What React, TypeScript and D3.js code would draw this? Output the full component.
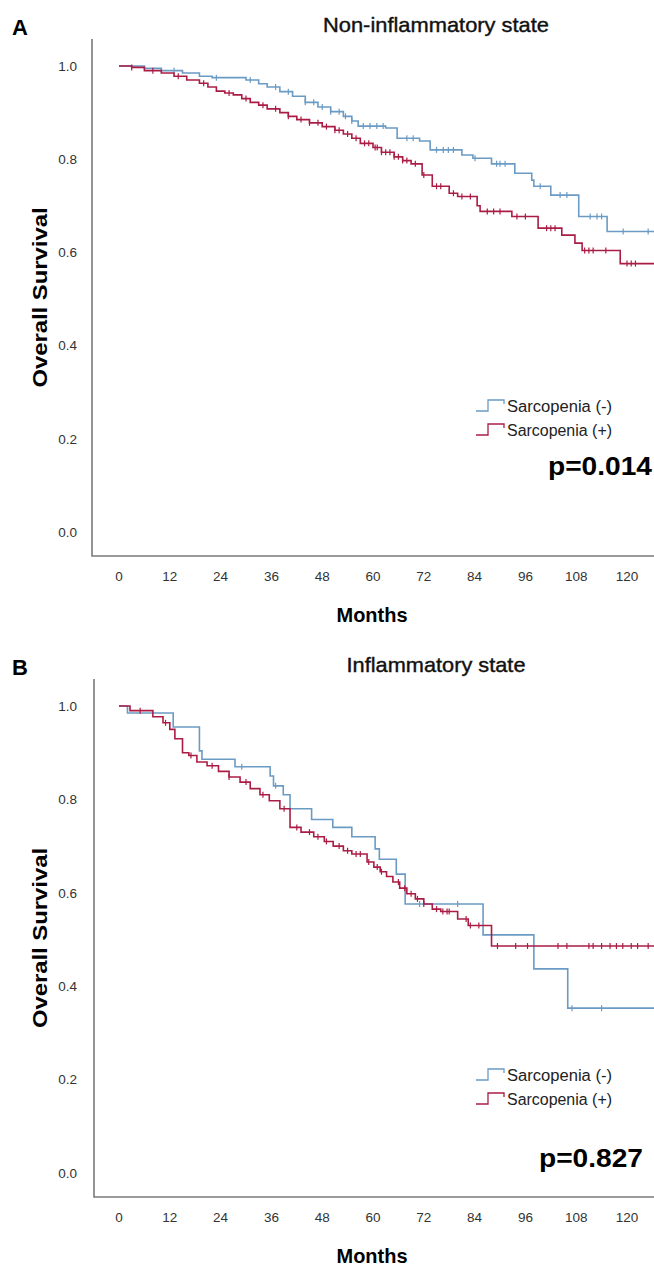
import React, { useEffect, useRef } from "react";
import * as d3 from "d3";

// months / survival ticks
const monthTicks = [0, 12, 24, 36, 48, 60, 72, 84, 96, 108, 120];
const survTicks = [0, 0.2, 0.4, 0.6, 0.8, 1.0];
const groups = ["Sarcopenia (-)", "Sarcopenia (+)"];

// Panel A: non-inflammatory state, [month, survival] after each event
const nonInflamNeg = [
  [0, 1.0], [6, 0.995], [10, 0.99], [15, 0.985], [19, 0.978], [22, 0.975], [30, 0.97], [33, 0.962],
  [35, 0.955], [38, 0.945], [41, 0.935], [44, 0.922], [47, 0.912], [50, 0.902], [53, 0.892], [55, 0.882],
  [56.5, 0.871], [63, 0.867], [65.7, 0.845], [71, 0.839], [73.5, 0.82], [81, 0.809], [83.6, 0.802],
  [88, 0.79], [93.5, 0.77], [97.5, 0.755], [98, 0.742], [102, 0.723], [108.6, 0.677], [115.3, 0.645],
];
const nonInflamPos = [
  [0, 1.0], [3, 0.997], [6, 0.99], [10, 0.985], [13, 0.978], [16, 0.97], [19, 0.963], [21, 0.955],
  [23, 0.946], [25, 0.942], [27, 0.938], [29, 0.93], [31, 0.922], [33, 0.916], [35, 0.908], [38, 0.9],
  [40, 0.892], [42, 0.885], [45, 0.878], [48, 0.87], [51, 0.862], [53, 0.854], [55, 0.845], [57, 0.834],
  [60, 0.825], [62, 0.815], [65, 0.805], [67, 0.797], [69, 0.79], [71.6, 0.766], [74, 0.742], [78, 0.727],
  [80, 0.72], [84.6, 0.7], [85.3, 0.688], [92.8, 0.677], [99, 0.652], [104.6, 0.637], [107.7, 0.62],
  [109.4, 0.604], [118.4, 0.576],
];
const nonInflamNegCensor = [13, 23, 31, 37, 40, 44, 46, 48, 50, 52, 53.5, 55, 57.7, 59.3, 60.9, 62.4, 68, 69.5,
  75, 76.6, 77.8, 79, 84.1, 89.2, 90, 91.2, 99.5, 104.2, 105.8, 111.3, 112.9, 114, 119.1, 125];
const nonInflamPosCensor = [3, 8, 14, 20, 26, 30, 34, 37, 40, 43, 45, 47, 49, 51, 52, 54, 56, 58, 59, 60.5, 61,
  62, 63, 64, 65, 66, 67, 68, 70, 72, 75, 76, 79, 81, 83, 87, 88.5, 90, 94, 96, 101, 102, 103, 110, 111, 112,
  115, 120, 121, 122];

// Panel B: inflammatory state
const inflamNeg = [
  [0, 1.0], [2, 0.985], [12.8, 0.955], [19, 0.904], [19.6, 0.886], [27.4, 0.87], [35.7, 0.85], [36.5, 0.829],
  [38.8, 0.81], [40.4, 0.78], [45.5, 0.757], [50.5, 0.74], [55, 0.72], [60.5, 0.694], [61.5, 0.672],
  [65.5, 0.64], [67.6, 0.576], [86, 0.51], [98, 0.437], [106, 0.353],
];
const inflamPos = [
  [0, 1.0], [2.6, 0.99], [8, 0.977], [10.4, 0.964], [12, 0.95], [13.2, 0.93], [15, 0.9], [16.5, 0.894],
  [18.4, 0.88], [20.8, 0.872], [23.5, 0.86], [26, 0.848], [28.6, 0.837], [31, 0.823], [33.3, 0.81],
  [35.5, 0.797], [38, 0.78], [40.4, 0.74], [43, 0.73], [46, 0.72], [48.5, 0.71], [50.6, 0.7], [53, 0.69],
  [55, 0.683], [58.6, 0.666], [60.2, 0.655], [61.7, 0.645], [63.2, 0.635], [64.7, 0.623], [66.3, 0.61],
  [68, 0.598], [70, 0.587], [72, 0.576], [74, 0.565], [76, 0.56], [80, 0.544], [82.5, 0.53], [88, 0.486],
];
const inflamNegCensor = [29, 37, 71, 80, 107, 114];
const inflamPosCensor = [5, 11, 17, 22, 26, 30, 34, 39, 42, 45, 47, 49, 52, 54, 56, 57, 59, 61, 62, 66, 67.5,
  69, 70.5, 72, 75, 76.5, 77.5, 78, 82, 83, 85, 89.4, 93.7, 96.5, 103.7, 105.8, 111, 112, 114, 116, 117.5, 119,
  121, 122.5, 125];

const BLUE = "#6b9bc4";
const RED = "#ab1c45";
const FONT = "'Liberation Sans', Arial, sans-serif";

const panels = [
  {
    letter: "A", title: "Non-inflammatory state", titleLen: 226, p: "p=0.014",
    top: 39, bottom: 556, y0: 532, y1: 66, axisX: 92,
    neg: nonInflamNeg, pos: nonInflamPos, negC: nonInflamNegCensor, posC: nonInflamPosCensor,
    legY: 406, legX: 506, pY: 466, pX: 652,
  },
  {
    letter: "B", title: "Inflammatory state", titleLen: 179, p: "p=0.827",
    top: 679, bottom: 1197, y0: 1173, y1: 706, axisX: 94,
    neg: inflamNeg, pos: inflamPos, negC: inflamNegCensor, posC: inflamPosCensor,
    legY: 1075, legX: 506, pY: 1158, pX: 643,
  },
];

function App() {
  const ref = useRef(null);

  useEffect(() => {
    const svg = d3.select(ref.current);
    svg.selectAll("*").remove();
    const x = d3.scaleLinear().domain([0, 120]).range([119, 627]);
    const xEnd = 127;

    panels.forEach((cfg) => {
      const y = d3.scaleLinear().domain([0, 1]).range([cfg.y0, cfg.y1]);
      const g = svg.append("g");

      // letter + title
      g.append("text").attr("x", 12).attr("y", cfg.top - 12).attr("dy", "0.35em")
        .attr("font-size", 22).attr("font-weight", "bold").attr("font-family", FONT).text(cfg.letter);
      g.append("text").attr("x", 436).attr("y", cfg.top - 14).attr("dy", "0.35em")
        .attr("text-anchor", "middle").attr("font-size", 21).attr("font-family", FONT)
        .attr("fill", "#111").attr("stroke", "#111").attr("stroke-width", 0.4)
        .attr("textLength", cfg.titleLen).attr("lengthAdjust", "spacingAndGlyphs").text(cfg.title);

      // axes
      g.append("path")
        .attr("d", `M${cfg.axisX},${cfg.top}V${cfg.bottom}H654`)
        .attr("fill", "none").attr("stroke", "#7a7a7a").attr("stroke-width", 1.6);

      g.selectAll("text.yt").data(survTicks).enter().append("text")
        .attr("class", "yt").attr("x", 77).attr("y", (d) => y(d)).attr("dy", "0.35em")
        .attr("text-anchor", "end").attr("font-size", 13.5).attr("font-family", FONT).attr("fill", "#333")
        .text((d) => d.toFixed(1));
      g.selectAll("text.xt").data(monthTicks).enter().append("text")
        .attr("class", "xt").attr("x", (d) => x(d)).attr("y", cfg.bottom + 20).attr("dy", "0.35em")
        .attr("text-anchor", "middle").attr("font-size", 13.5).attr("font-family", FONT).attr("fill", "#333")
        .text((d) => d);

      g.append("text").attr("x", 372).attr("y", cfg.bottom + 59).attr("dy", "0.35em")
        .attr("text-anchor", "middle").attr("font-size", 21).attr("font-weight", "bold").attr("font-family", FONT)
        .attr("textLength", 71).attr("lengthAdjust", "spacingAndGlyphs").text("Months");
      const midY = (cfg.top + cfg.bottom) / 2;
      g.append("text").attr("transform", `translate(40,${midY}) rotate(-90)`).attr("dy", "0.35em")
        .attr("text-anchor", "middle").attr("font-size", 20).attr("font-weight", "bold").attr("font-family", FONT)
        .attr("textLength", 180).attr("lengthAdjust", "spacingAndGlyphs").text("Overall Survival");

      // curves
      const line = d3.line().x((d) => x(d[0])).y((d) => y(d[1])).curve(d3.curveStepAfter);
      const series = [
        { data: cfg.neg, censor: cfg.negC, color: BLUE },
        { data: cfg.pos, censor: cfg.posC, color: RED },
      ];
      series.forEach((s) => {
        const pts = [...s.data, [xEnd, s.data[s.data.length - 1][1]]];
        g.append("path").attr("d", line(pts)).attr("fill", "none")
          .attr("stroke", s.color).attr("stroke-width", 1.6);
        const bis = d3.bisector((d) => d[0]).right;
        const at = (t) => s.data[Math.max(0, bis(s.data, t) - 1)][1];
        g.selectAll(null).data(s.censor).enter().append("line")
          .attr("x1", (d) => x(d)).attr("x2", (d) => x(d))
          .attr("y1", (d) => y(at(d)) - 3).attr("y2", (d) => y(at(d)) + 3)
          .attr("stroke", s.color).attr("stroke-width", 1.2);
      });

      // legend
      groups.forEach((name, i) => {
        const ly = cfg.legY + i * 24;
        const lx = cfg.legX;
        g.append("path")
          .attr("d", `M${lx - 30},${ly + 5}H${lx - 18}V${ly - 6}H${lx - 2}V${ly - 2}`)
          .attr("fill", "none").attr("stroke", i === 0 ? BLUE : RED).attr("stroke-width", 1.3);
        g.append("text").attr("x", lx + 1).attr("y", ly).attr("dy", "0.35em")
          .attr("font-size", 16).attr("font-family", FONT).attr("fill", "#222")
          .attr("textLength", 105).attr("lengthAdjust", "spacingAndGlyphs").text(name);
      });

      g.append("text").attr("x", cfg.pX).attr("y", cfg.pY).attr("dy", "0.35em")
        .attr("text-anchor", "end").attr("font-size", 25).attr("font-weight", "bold").attr("font-family", FONT)
        .attr("textLength", 104).attr("lengthAdjust", "spacingAndGlyphs").text(cfg.p);
    });
  }, []);

  return (
    <svg ref={ref} width={654} height={1269}
      style={{ position: "absolute", left: 0, top: 0, background: "#fff" }} />
  );
}

export default App;
